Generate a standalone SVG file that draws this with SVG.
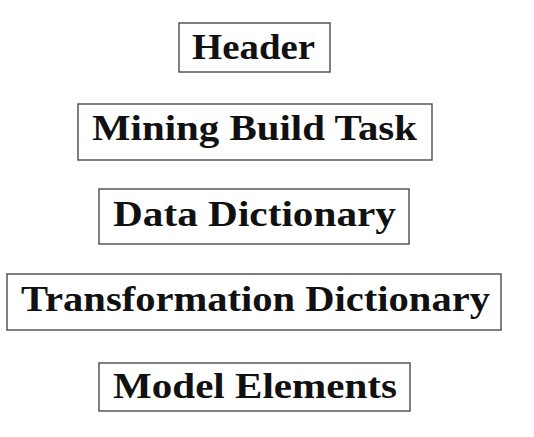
<svg xmlns="http://www.w3.org/2000/svg" width="534" height="437" viewBox="0 0 534 437">
<style>
.box{fill:#fff;stroke:#4a4a4a;stroke-width:1.4}
.lbl{font-family:"Liberation Serif","DejaVu Serif",serif;font-weight:bold;font-size:36px;fill:#111;text-anchor:middle}
</style>
<rect width="534" height="437" fill="#fff"/>
<g id="header">
<rect class="box" x="179" y="23" width="151" height="49"/>
<text class="lbl" x="253.5" y="59" textLength="123" lengthAdjust="spacingAndGlyphs">Header</text>
</g>
<g id="mining-build-task">
<rect class="box" x="78" y="104" width="354" height="56"/>
<text class="lbl" x="254.5" y="140" textLength="325" lengthAdjust="spacingAndGlyphs">Mining Build Task</text>
</g>
<g id="data-dictionary">
<rect class="box" x="99" y="189" width="310" height="55"/>
<text class="lbl" x="254.5" y="226" textLength="283" lengthAdjust="spacingAndGlyphs">Data Dictionary</text>
</g>
<g id="transformation-dictionary">
<rect class="box" x="7" y="274" width="494" height="56"/>
<text class="lbl" x="255.5" y="311" textLength="469" lengthAdjust="spacingAndGlyphs">Transformation Dictionary</text>
</g>
<g id="model-elements">
<rect class="box" x="99" y="363" width="311" height="48"/>
<text class="lbl" x="255" y="398" textLength="284" lengthAdjust="spacingAndGlyphs">Model Elements</text>
</g>
<g id="connectors"></g>
</svg>
